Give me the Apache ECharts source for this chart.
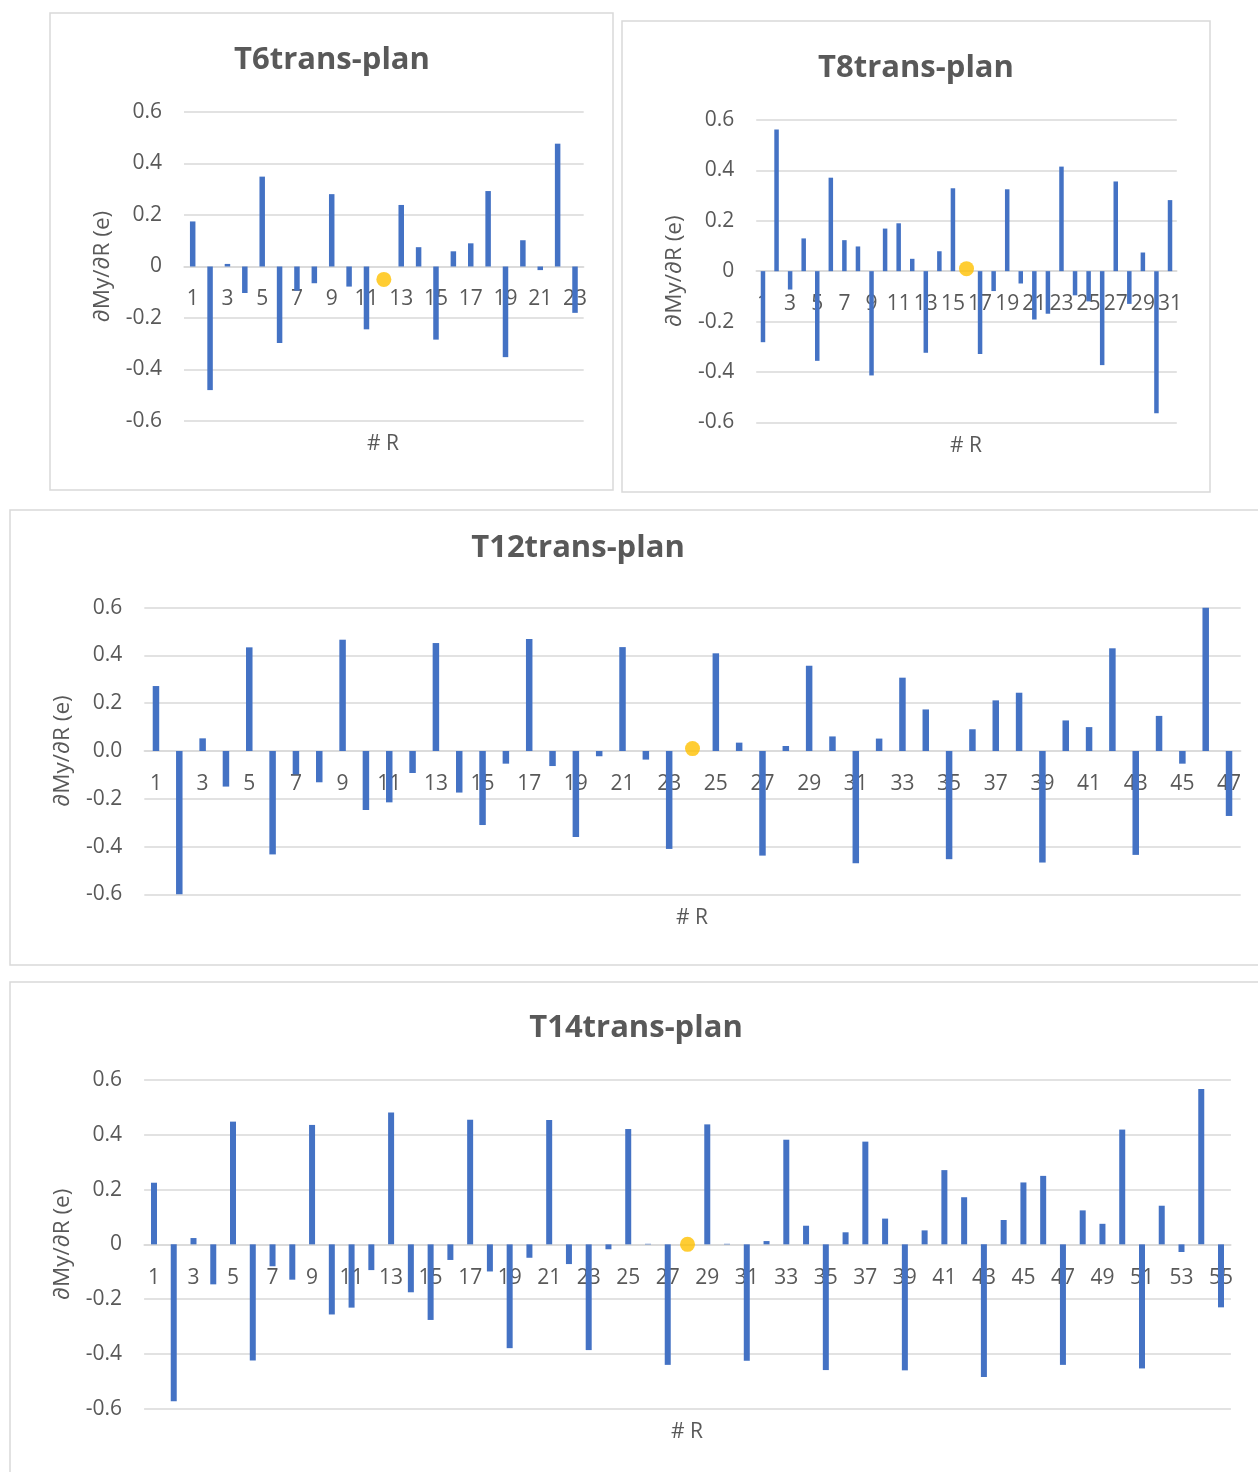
<!DOCTYPE html>
<html>
<head>
<meta charset="utf-8">
<script src="https://cdn.jsdelivr.net/npm/echarts@6/dist/echarts.min.js"></script>
<style>
html,body{margin:0;padding:0;background:#fff;}
#chart{width:1258px;height:1472px;}
</style>
</head>
<body>
<div id="chart"></div>
<script>
// ---------- data ----------
const t6Categories = ['1','2','3','4','5','6','7','8','9','10','11','12','13','14','15','16','17','18','19','20','21','22','23'];
const t6Values = [0.175, -0.48, 0.01, -0.103, 0.349, -0.297, -0.094, -0.065, 0.281, -0.078, -0.244, null, 0.239, 0.075, -0.284, 0.059, 0.09, 0.293, -0.352, 0.102, -0.014, 0.477, -0.18];
const t6Dot = ['12', -0.05];

const t8Categories = ['1','2','3','4','5','6','7','8','9','10','11','12','13','14','15','16','17','18','19','20','21','22','23','24','25','26','27','28','29','30','31'];
const t8Values = [-0.282, 0.562, -0.073, 0.13, -0.356, 0.371, 0.123, 0.098, -0.414, 0.169, 0.19, 0.049, -0.324, 0.079, 0.329, null, -0.329, -0.079, 0.325, -0.049, -0.192, -0.169, 0.415, -0.096, -0.12, -0.373, 0.356, -0.13, 0.074, -0.564, 0.282];
const t8Dot = ['16', 0.01];

const t12Categories = ['1','2','3','4','5','6','7','8','9','10','11','12','13','14','15','16','17','18','19','20','21','22','23','24','25','26','27','28','29','30','31','32','33','34','35','36','37','38','39','40','41','42','43','44','45','46','47'];
const t12Values = [0.272, -0.6, 0.053, -0.149, 0.434, -0.433, -0.098, -0.131, 0.466, -0.247, -0.215, -0.092, 0.452, -0.174, -0.31, -0.053, 0.469, -0.063, -0.36, -0.022, 0.435, -0.036, -0.41, null, 0.409, 0.035, -0.438, 0.021, 0.357, 0.061, -0.47, 0.052, 0.307, 0.174, -0.453, 0.091, 0.212, 0.244, -0.467, 0.128, 0.1, 0.43, -0.435, 0.147, -0.053, 0.6, -0.272];
const t12Dot = ['24', 0.01];

const t14Categories = ['1','2','3','4','5','6','7','8','9','10','11','12','13','14','15','16','17','18','19','20','21','22','23','24','25','26','27','28','29','30','31','32','33','34','35','36','37','38','39','40','41','42','43','44','45','46','47','48','49','50','51','52','53','54','55'];
const t14Values = [0.225, -0.573, 0.023, -0.146, 0.448, -0.424, -0.08, -0.129, 0.436, -0.256, -0.231, -0.094, 0.481, -0.175, -0.276, -0.057, 0.455, -0.099, -0.379, -0.049, 0.454, -0.072, -0.386, -0.018, 0.421, 0.002, -0.44, null, 0.438, 0.002, -0.425, 0.012, 0.382, 0.068, -0.459, 0.044, 0.375, 0.094, -0.46, 0.051, 0.271, 0.172, -0.484, 0.089, 0.226, 0.25, -0.44, 0.124, 0.075, 0.419, -0.453, 0.141, -0.028, 0.567, -0.23];
const t14Dot = ['28', 0.0];

const titles = ['T6trans-plan', 'T8trans-plan', 'T12trans-plan', 'T14trans-plan'];
const yName = '∂My/∂R (e)';
const xName = '# R';
const yMin = -0.6, yMax = 0.6, yInterval = 0.2;

// ---------- layout ----------
const FONT = '"Open Sans", "DejaVu Sans", sans-serif';
const TXT = '#595959';
const GRID_C = '#D9D9D9';
const BAR_C = '#4472C4';
const DOT_C = '#FFC000';

// labelY = vertical centre of the category labels (they sit just under the zero line)
const panels = [
  {cats: t6Categories, vals: t6Values, dot: t6Dot, grid: {left: 184, top: 112, width: 399.7, height: 309}, barW: 5.5, decimals: false,
   box: [50, 13, 563, 477], title: [332, 60], xname: [383, 444], labelY: 299.5},
  {cats: t8Categories, vals: t8Values, dot: t8Dot, grid: {left: 756.2, top: 120, width: 420.6, height: 302.3}, barW: 4.5, decimals: false,
   box: [622, 21, 588, 471], title: [916, 68], xname: [966, 446], labelY: 304.5},
  {cats: t12Categories, vals: t12Values, dot: t12Dot, grid: {left: 144.3, top: 607.7, width: 1096.4, height: 286.6}, barW: 6.5, decimals: true,
   box: [10, 510, 1260, 455], title: [578, 548], xname: [692, 918], labelY: 784.5},
  {cats: t14Categories, vals: t14Values, dot: t14Dot, grid: {left: 144.1, top: 1080, width: 1086.8, height: 328.7}, barW: 6, decimals: false,
   box: [10, 982, 1260, 500], title: [636, 1028], xname: [687, 1432], labelY: 1278.5}
];

const grids = [], xAxes = [], yAxes = [], series = [], graphics = [];
panels.forEach((p, i) => {
  grids.push(Object.assign({containLabel: false}, p.grid));
  const gridBottom = p.grid.top + p.grid.height;
  xAxes.push({
    gridIndex: i, type: 'category', data: p.cats,
    axisLine: {onZero: true, lineStyle: {color: GRID_C, width: 1.5}},
    axisTick: {show: false},
    axisLabel: {interval: 1, margin: (p.labelY - 11) - gridBottom, color: TXT, fontSize: 21, fontFamily: FONT},
    splitLine: {show: false}
  });
  yAxes.push({
    gridIndex: i, type: 'value', min: yMin, max: yMax, interval: yInterval,
    axisLine: {show: false}, axisTick: {show: false},
    axisLabel: {
      margin: 22, color: TXT, fontSize: 21, fontFamily: FONT,
      formatter: (v) => {
        if (Math.abs(v) < 1e-9) return p.decimals ? '0.0' : '0';
        return (Math.round(v * 10) / 10).toFixed(1);
      }
    },
    splitLine: {lineStyle: {color: GRID_C, width: 1.5}},
    name: yName, nameLocation: 'middle', nameRotate: 90, nameGap: 70,
    nameTextStyle: {color: TXT, fontSize: 22.5, fontFamily: FONT}
  });
  series.push({
    type: 'bar', xAxisIndex: i, yAxisIndex: i, data: p.vals, barWidth: p.barW,
    itemStyle: {color: BAR_C}, z: 3
  });
  series.push({
    type: 'scatter', xAxisIndex: i, yAxisIndex: i, data: [p.dot], symbolSize: 15,
    itemStyle: {color: DOT_C}, z: 5
  });
  graphics.push({
    type: 'rect', shape: {x: p.box[0], y: p.box[1], width: p.box[2], height: p.box[3]},
    style: {fill: 'none', stroke: GRID_C, lineWidth: 1.5}, z: -1, silent: true
  });
  graphics.push({
    type: 'text', x: p.title[0], y: p.title[1],
    style: {text: titles[i], fill: TXT, font: 'bold 31px ' + FONT, align: 'center', verticalAlign: 'middle'}
  });
  graphics.push({
    type: 'text', x: p.xname[0], y: p.xname[1],
    style: {text: xName, fill: TXT, font: '21px ' + FONT, align: 'center', verticalAlign: 'middle'}
  });
});

const chart = echarts.init(document.getElementById('chart'), null, {renderer: 'canvas'});
chart.setOption({
  backgroundColor: '#ffffff',
  animation: false,
  grid: grids,
  xAxis: xAxes,
  yAxis: yAxes,
  series: series,
  graphic: graphics
});
</script>
</body>
</html>
